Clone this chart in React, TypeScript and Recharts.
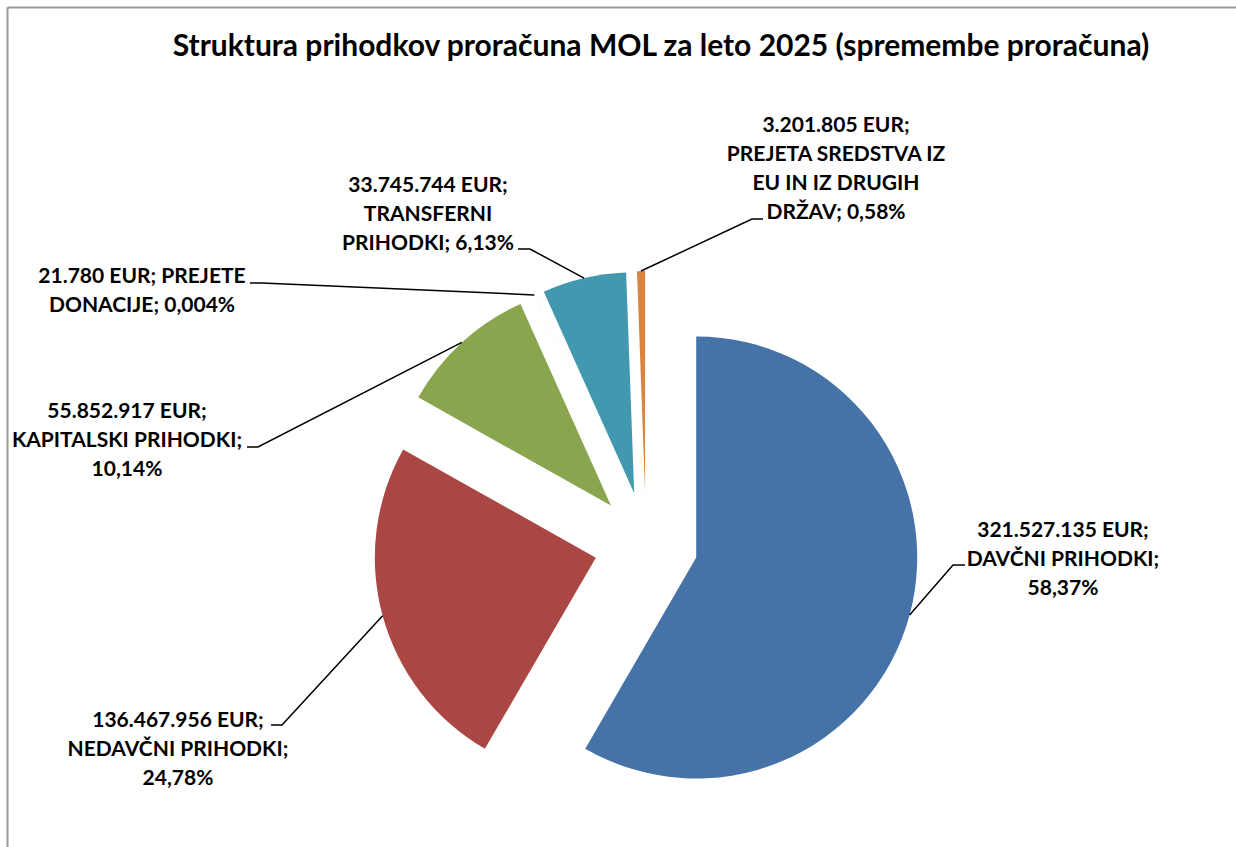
import { Cell, Pie, PieChart } from "recharts";

const title = "Struktura prihodkov proračuna MOL za leto 2025 (spremembe proračuna)";

const categories = [
  "DAVČNI PRIHODKI",
  "NEDAVČNI PRIHODKI",
  "KAPITALSKI PRIHODKI",
  "PREJETE DONACIJE",
  "TRANSFERNI PRIHODKI",
  "PREJETA SREDSTVA IZ EU IN IZ DRUGIH DRŽAV",
];
const amounts = [321527135, 136467956, 55852917, 21780, 33745744, 3201805];
const colors = ["#4572A7", "#AA4643", "#89A54E", "#80699B", "#4198AF", "#DB843D"];

// words on each line of a data label
const labelBreaks = [[2, 2, 1], [2, 2, 1], [2, 2, 1], [3, 2], [2, 1, 2], [2, 3, 4, 2]];
// label placement relative to the pie centre: text centre + first baseline, elbow, stub end
const labelSpots = [
  { tx: 417, ty: -7, ex: 307, ey: 21, hx: 319 },
  { tx: -468, ty: 183, ex: -364, ey: 181, hx: -375 },
  { tx: -519, ty: -126, ex: -388, ey: -97, hx: -399 },
  { tx: -504, ty: -261, ex: -384, ey: -261, hx: -396 },
  { tx: -218, ty: -352, ex: -116, ey: -295, hx: -128 },
  { tx: 190, ty: -412, ex: 106, ey: -325, hx: 117 },
];

const W = 1236;
const H = 847;
const CX = 646;
const CY = 544;
const R = 221;
const EXPLODE = 52;
const LINE_H = 29;
const FONT = "Lato, 'Open Sans', sans-serif";
const RAD = Math.PI / 180;

const data = categories.map((name, i) => ({ name, value: amounts[i] }));
const total = amounts.reduce((a, b) => a + b, 0);

// recharts angle convention, clockwise from 12 o'clock
const midAngles = amounts.map((v, i) => {
  const before = amounts.slice(0, i).reduce((a, b) => a + b, 0);
  return 90 - (360 * (before + v / 2)) / total;
});

const fmtInt = (v: number) => String(v).replace(/\B(?=(\d{3})+(?!\d))/g, ".");
const fmtPct = (p: number) =>
  (p * 100 >= 0.1 ? (p * 100).toFixed(2) : (p * 100).toFixed(3)).replace(".", ",") + "%";

function labelLines(i: number, value: number, percent: number) {
  const words = `${fmtInt(value)} EUR; ${categories[i]}; ${fmtPct(percent)}`.split(" ");
  const out: string[] = [];
  let k = 0;
  for (const n of labelBreaks[i]) {
    out.push(words.slice(k, k + n).join(" "));
    k += n;
  }
  return out;
}

const makeLabel = (i: number) => (props: any) => {
  if (props.index !== i) return null;
  const mid = props.midAngle ?? midAngles[i];
  const cx = props.cx ?? CX;
  const cy = props.cy ?? CY;
  const r = props.outerRadius ?? R;
  const sx = cx + r * Math.cos(-mid * RAD);
  const sy = cy + r * Math.sin(-mid * RAD);
  const s = labelSpots[i];
  const pct = props.percent ?? amounts[i] / total;
  const lines = labelLines(i, amounts[i], pct);
  return (
    <g>
      <polyline
        points={`${sx},${sy} ${CX + s.ex},${CY + s.ey} ${CX + s.hx},${CY + s.ey}`}
        fill="none"
        stroke="#000"
        strokeWidth={1.5}
      />
      <text textAnchor="middle" fontFamily={FONT} fontWeight={700} fontSize={21} fill="#000">
        {lines.map((l, k) => (
          <tspan key={k} x={CX + s.tx} y={CY + s.ty + k * LINE_H}>
            {l}
          </tspan>
        ))}
      </text>
    </g>
  );
};

export default function App() {
  return (
    <div style={{ position: "relative", width: W, height: H, overflow: "hidden", background: "#fff" }}>
      <style>{"body{margin:0}"}</style>
      <svg width={W} height={H} style={{ position: "absolute", left: 0, top: 0 }}>
        <line x1={7.5} y1={7.5} x2={7.5} y2={H} stroke="#9a9a9a" strokeWidth={2} />
        <line x1={7.5} y1={7.5} x2={W} y2={7.5} stroke="#9a9a9a" strokeWidth={2} />
        <text x={661} y={56} textAnchor="middle" fontFamily={FONT} fontWeight={700} fontSize={30} fill="#000">
          {title}
        </text>
      </svg>
      <div style={{ position: "absolute", left: 0, top: 0 }}>
        <PieChart width={W} height={H} margin={{ top: 0, right: 0, bottom: 0, left: 0 }}>
          {midAngles.map((mid, i) => (
            <Pie
              key={i}
              data={data}
              dataKey="value"
              nameKey="name"
              cx={CX + EXPLODE * Math.cos(-mid * RAD)}
              cy={CY + EXPLODE * Math.sin(-mid * RAD)}
              outerRadius={R}
              startAngle={90}
              endAngle={-270}
              stroke="none"
              label={makeLabel(i)}
              labelLine={false}
              isAnimationActive={false}
            >
              {data.map((_, j) => (
                <Cell key={j} fill={j === i ? colors[j] : "none"} stroke="none" />
              ))}
            </Pie>
          ))}
        </PieChart>
      </div>
    </div>
  );
}
